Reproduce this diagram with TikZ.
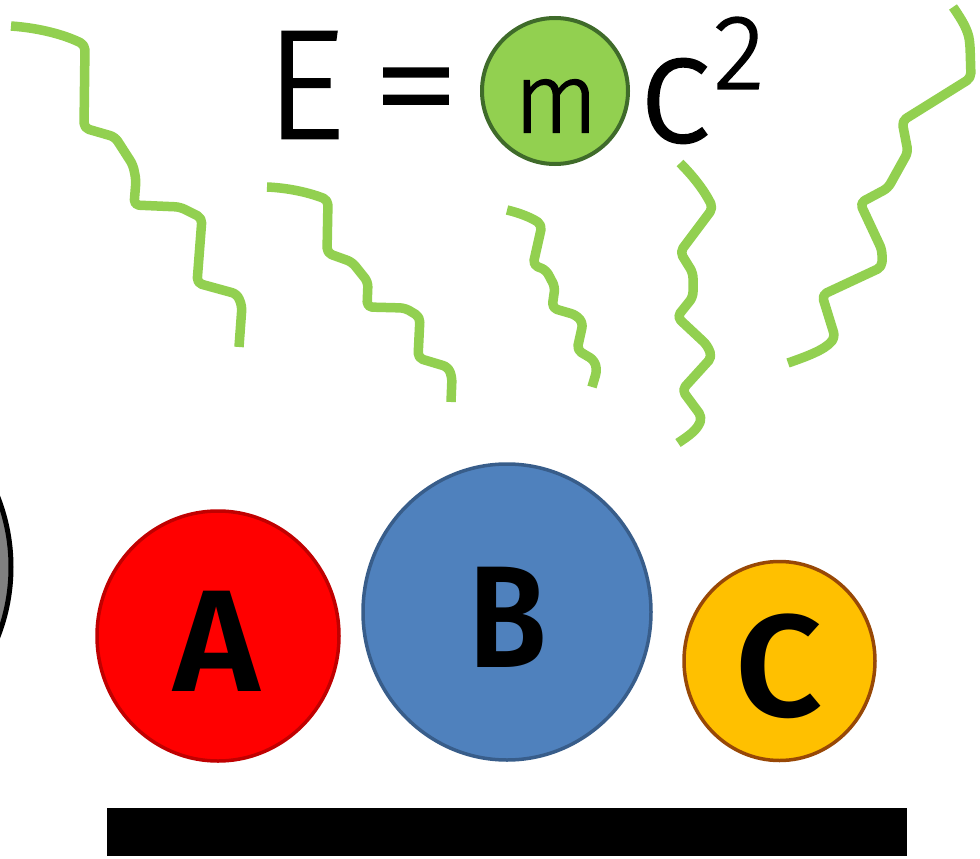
\documentclass[tikz,border=0pt]{standalone}
\usepackage{fontspec}
\setmainfont{Fira Sans}
\newfontfamily\firabook{Fira Sans Light}[FakeBold=1.5]
\newfontfamily\firasemi{Fira Sans SemiBold}
\usetikzlibrary{shapes.geometric}
\definecolor{wavegreen}{RGB}{146,208,80}
\definecolor{mborder}{RGB}{63,107,42}
\definecolor{aborder}{RGB}{192,0,0}
\definecolor{bfill}{RGB}{79,129,189}
\definecolor{bborder}{RGB}{56,93,138}
\definecolor{cfill}{RGB}{255,192,0}
\definecolor{cborder}{RGB}{152,72,6}
\definecolor{grayfill}{RGB}{128,128,128}
\tikzset{
  wave/.style={draw=wavegreen, line width=9.5pt, rounded corners=5pt, line join=round},
  ball/.style={ellipse, inner sep=0pt, line width=3.5pt},
  bigletter/.style={inner sep=0pt, font=\firasemi\fontsize{145}{150}\selectfont},
  eqtext/.style={inner sep=0pt, font=\firabook\fontsize{155}{160}\selectfont},
}
\begin{document}
\begin{tikzpicture}[x=1pt,y=-1pt]
\useasboundingbox (0,0) rectangle (980,859);
\clip (0,0) rectangle (980,859);
% wavy lines
\draw[wave] (11,26) .. controls (40,28) and (65,35) .. (85,45) -- (84,128) -- (115,137) -- (133,165) -- (136,180) -- (134,205) -- (180,207) -- (202,218) -- (197,283) -- (237,294) -- (242,306) -- (239,347);
\draw[wave] (267,187) .. controls (290,188) and (310,193) .. (328,200) -- (327,253) -- (352,262) -- (368,282) -- (367,307) -- (405,308) -- (420,317) -- (418,358) -- (448,367) -- (452,377) -- (451,402);
\draw[wave] (507,210) .. controls (520,213) and (532,218) .. (542,225) -- (533,265) -- (546,270) -- (555,287) -- (552,308) -- (576,315) -- (583,323) -- (577,350) -- (594,360) -- (597,370) -- (592,387);
\draw[wave] (680,163) .. controls (695,178) and (705,192) .. (713,208) -- (680,252) -- (693,273) -- (693,297) -- (677,317) -- (707,345) -- (712,357) -- (682,390) -- (702,417) .. controls (697,430) and (690,435) .. (678,443);
\draw[wave] (788,363) .. controls (805,357) and (825,350) .. (835,337) -- (822,295) -- (882,267) -- (882,250) -- (860,203) -- (888,188) -- (908,152) -- (902,121) -- (971,78) -- (970,45) .. controls (968,30) and (962,20) .. (953,7);
% equation
\node[circle, minimum size=146pt, inner sep=0pt, fill=wavegreen, draw=mborder, line width=4pt] (mcirc) at (555,91) {};
\node[eqtext] (E) at (305,85) {E};
\node[eqtext] (eq) at (416,103) {\scalebox{1.15}[1]{=}};
\node[inner sep=0pt, font=\firabook\fontsize{99}{100}\selectfont] (m) at (556,106) {m};
\node[eqtext] (c) at (675,101) {c};
\node[inner sep=0pt, font=\firabook\fontsize{106}{110}\selectfont] (two) at (739,53) {2};
% balls
\node[ball, minimum width=384pt, minimum height=384pt, fill=grayfill, draw=black, line width=5pt] (gray) at (-181,567) {};
\node[ball, minimum width=242pt, minimum height=250pt, fill=red, draw=aborder] (A) at (218,636) {};
\node[ball, minimum width=288pt, minimum height=296pt, fill=bfill, draw=bborder] (B) at (507,612) {};
\node[ball, minimum width=191pt, minimum height=199pt, fill=cfill, draw=cborder] (C) at (779.5,661) {};
\node[bigletter] (Alab) at (217,641) {\scalebox{1.02}[1]{A}};
\node[bigletter] (Blab) at (508,617) {\scalebox{0.88}[1]{B}};
\node[bigletter] (Clab) at (779,666) {\scalebox{1.05}[1]{C}};
% bar
\fill[black] (107,808) rectangle (907,856);
\end{tikzpicture}
\end{document}
